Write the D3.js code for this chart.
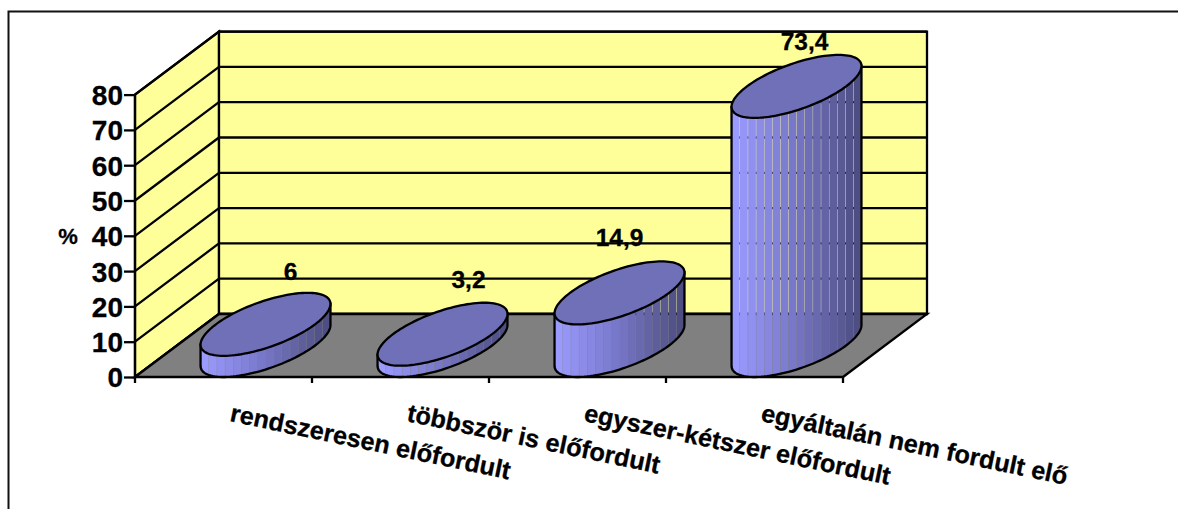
<!DOCTYPE html>
<html><head><meta charset="utf-8">
<script src="https://cdn.jsdelivr.net/npm/d3@7"></script>
<style>html,body{margin:0;padding:0;background:#fff}svg{display:block}text{font-family:"Liberation Sans",Arial,sans-serif;font-weight:bold;fill:#000;stroke:#000;stroke-width:.3px}</style>
</head><body><svg id="c" width="1178" height="509"></svg>
<script>
const categories = ["rendszeresen előfordult","többször is előfordult","egyszer-kétszer előfordult","egyáltalán nem fordult elő"];
const values = [6,3.2,14.9,73.4];
const valueLabels = ["6","3,2","14,9","73,4"];
const yTicks = [0,10,20,30,40,50,60,70,80];
const yTitle = "%";
const labelNudge = [[25,-22],[26,-24],[0,-24],[8,-14]];

const W=1178,H=509, x0=135,x1=843,y0=377,y80=94.6, dx=84,dy=-63;
const svg=d3.select("#c");
const x=d3.scaleBand().domain(categories).range([x0,x1]).padding(0);
const y=d3.scaleLinear().domain([0,80]).range([y0,y80]);
const stroke="#000", sw=2.3;

svg.append("path").attr("d",`M8.5,509V11.5H${W}`).attr("fill","none").attr("stroke","#111").attr("stroke-width",2);

// walls and floor
svg.append("polygon").attr("points",[[x0,y(0)],[x0,y(80)],[x0+dx,y(80)+dy],[x0+dx,y(0)+dy]].join(" ")).attr("fill","#ffff99").attr("stroke",stroke).attr("stroke-width",sw);
svg.append("polygon").attr("points",[[x0+dx,y(0)+dy],[x0+dx,y(80)+dy],[x1+dx,y(80)+dy],[x1+dx,y(0)+dy]].join(" ")).attr("fill","#ffff99").attr("stroke",stroke).attr("stroke-width",sw);
svg.append("g").selectAll("path").data(yTicks).join("path")
  .attr("d",d=>`M${x0},${y(d)}L${x0+dx},${y(d)+dy}H${x1+dx}`).attr("fill","none").attr("stroke",stroke).attr("stroke-width",sw);
svg.append("polygon").attr("points",[[x0,y(0)],[x1,y(0)],[x1+dx,y(0)+dy],[x0+dx,y(0)+dy]].join(" ")).attr("fill","#808080").attr("stroke",stroke).attr("stroke-width",sw);

// axes
const ya=d3.axisLeft(y).tickValues(yTicks).tickSize(11).tickPadding(1);
const yg=svg.append("g").attr("transform",`translate(${x0},0)`).call(ya);
yg.selectAll("line").attr("stroke",stroke).attr("stroke-width",sw);
yg.select(".domain").attr("stroke",stroke).attr("stroke-width",sw).attr("d",`M0,${y(80)}V${y(0)}`);
yg.selectAll("text").attr("font-size",28).attr("font-family",'"Liberation Sans"').attr("font-weight","bold").attr("fill","#000").attr("y",1);
const xt=[...categories.map(c=>x(c)),x1];
svg.append("g").selectAll("line").data(xt).join("line").attr("x1",d=>d).attr("x2",d=>d).attr("y1",y0).attr("y2",y0+6).attr("stroke",stroke).attr("stroke-width",sw);

// cylinders
const ux=x.bandwidth()*0.28, vx=dx/2, vy=dy/2;
const tExt=Math.atan2(vx,ux);
const pt=(cx,cy,t)=>[cx+ux*Math.cos(t)+vx*Math.sin(t),cy+vy*Math.sin(t)];
const line=d3.line();
const ts=d3.range(0,121).map(i=>i/120*2*Math.PI);
const half=d3.range(0,61).map(i=>tExt-i/60*Math.PI);
const shade=d3.scaleLinear().domain([0,0.5,1]).range(["#9a9aff","#7676c6","#4e4e82"]);
const strips=d3.range(16);
const defs=svg.append("defs");
values.forEach((v,i)=>{
  const cx=x(categories[i])+x.bandwidth()/2+dx/2, by=y(0)+dy/2, ty=y(v)+dy/2;
  const g=svg.append("g");
  const bot=half.map(t=>pt(cx,by,t));
  const left=pt(cx,ty,half[half.length-1]), right=pt(cx,ty,half[0]);
  const bodyD=line([...bot,left,right])+"Z";
  defs.append("clipPath").attr("id","b"+i).append("path").attr("d",bodyD);
  const xa=pt(cx,0,half[half.length-1])[0], xb=pt(cx,0,half[0])[0];
  const sx=d3.scaleBand().domain(strips).range([xa,xb]);
  g.append("g").attr("clip-path",`url(#b${i})`).selectAll("rect").data(strips).join("rect")
    .attr("x",d=>sx(d)+0.35).attr("width",sx.bandwidth()-0.35).attr("y",ty-40).attr("height",by-ty+90)
    .attr("fill",d=>shade(d/15));
  g.append("path").attr("d",bodyD).attr("fill","none").attr("stroke",stroke).attr("stroke-width",sw);
  g.append("path").attr("d",line(ts.map(t=>pt(cx,ty,t)))+"Z").attr("fill","#7070b8").attr("stroke",stroke).attr("stroke-width",sw);
  svg.append("text").attr("x",cx+labelNudge[i][0]).attr("y",ty-31.5+labelNudge[i][1]+9).attr("text-anchor","middle").attr("font-size",24.5).text(valueLabels[i]);
});

svg.append("text").attr("x",68).attr("y",244).attr("text-anchor","middle").attr("font-size",22).text(yTitle);

// category labels
svg.append("g").selectAll("text").data(categories).join("text")
  .attr("transform",d=>`translate(${x(d)+94},421) rotate(11.8)`).attr("font-size",25.2).text(d=>d);
</script></body></html>
